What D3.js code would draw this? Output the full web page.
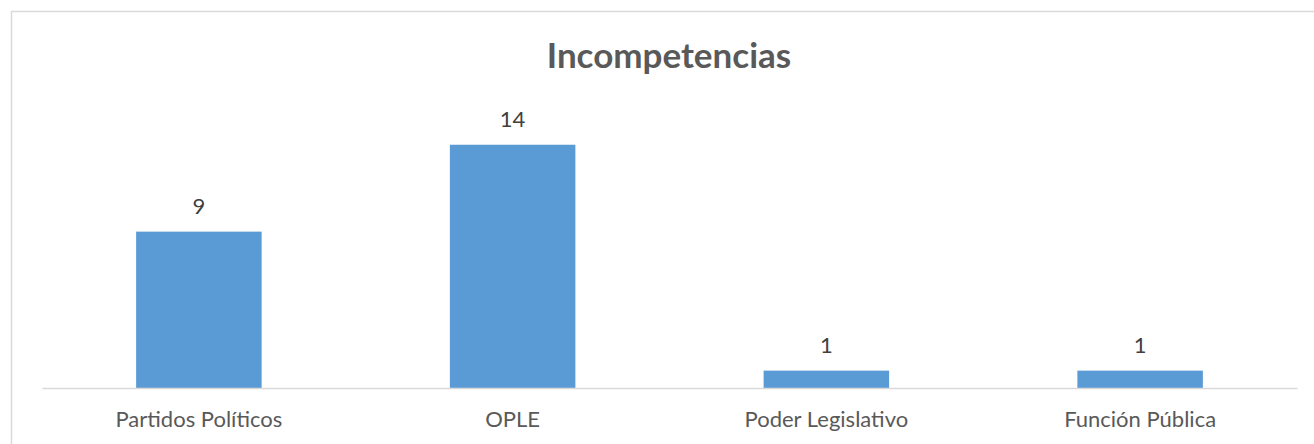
<!DOCTYPE html>
<html>
<head>
<meta charset="utf-8">
<script src="https://cdn.jsdelivr.net/npm/d3@7"></script>
<style>
  body { margin: 0; background: #fff; }
  text { font-family: Lato, "Open Sans", sans-serif; }
</style>
</head>
<body>
<div id="chart"></div>
<script>
// chart data
var categories = ["Partidos Políticos", "OPLE", "Poder Legislativo", "Función Pública"];
var values = [9, 14, 1, 1];
var chartTitle = "Incompetencias";

var svgWidth = 1314;
var svgHeight = 444;

var svg = d3.select("#chart")
  .append("svg")
  .attr("width", svgWidth)
  .attr("height", svgHeight);

// chart frame (runs off the right and bottom of the picture)
svg.append("rect")
  .attr("x", 11.5)
  .attr("y", 11.5)
  .attr("width", 1340)
  .attr("height", 460)
  .attr("fill", "none")
  .attr("stroke", "#d9d9d9")
  .attr("stroke-width", 1.5);

// plot area
var plot = { left: 42, right: 1297, top: 110, bottom: 388 };

var xScale = d3.scaleBand()
  .domain(categories)
  .range([plot.left, plot.right])
  .paddingInner(0.6)
  .paddingOuter(0.3);

var yScale = d3.scaleLinear()
  .domain([0, 16])
  .range([plot.bottom, plot.top]);

// bars
svg.selectAll(".bar")
  .data(values)
  .enter()
  .append("rect")
  .attr("class", "bar")
  .attr("x", (d, i) => xScale(categories[i]))
  .attr("y", d => yScale(d))
  .attr("width", xScale.bandwidth())
  .attr("height", d => yScale(0) - yScale(d))
  .attr("fill", "#5b9bd5");

// x axis
var xAxis = svg.append("g")
  .attr("transform", `translate(0, ${plot.bottom})`)
  .call(d3.axisBottom(xScale).tickSize(0).tickPadding(23));

xAxis.select(".domain")
  .attr("stroke", "#d9d9d9")
  .attr("stroke-width", 1.5);

xAxis.selectAll("text")
  .attr("fill", "#595959")
  .style("font-size", "22px")
  .style("font-family", "Lato, 'Open Sans', sans-serif");

// value labels
svg.selectAll(".value-label")
  .data(values)
  .enter()
  .append("text")
  .attr("class", "value-label")
  .attr("x", (d, i) => xScale(categories[i]) + xScale.bandwidth() / 2)
  .attr("y", d => yScale(d) - 18)
  .attr("text-anchor", "middle")
  .attr("fill", "#404040")
  .style("font-size", "22px")
  .text(d => d);

// title
svg.append("text")
  .attr("x", 669)
  .attr("y", 68)
  .attr("text-anchor", "middle")
  .attr("fill", "#595959")
  .style("font-size", "35px")
  .style("font-weight", "bold")
  .text(chartTitle);
</script>
</body>
</html>
